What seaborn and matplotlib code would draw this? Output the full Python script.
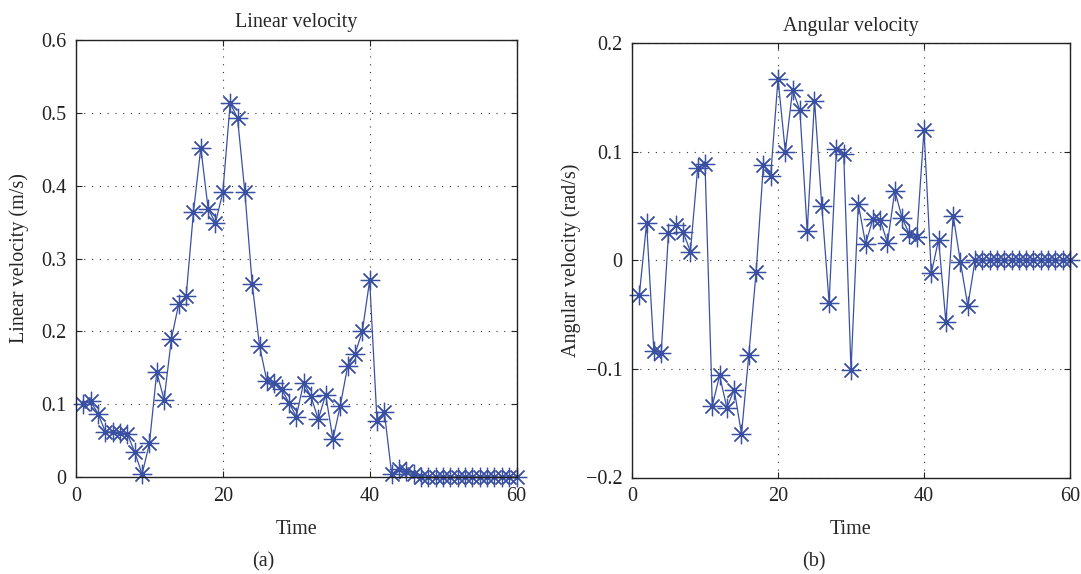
import numpy as np
import pandas as pd
import matplotlib
matplotlib.use("Agg")
import matplotlib.pyplot as plt
import seaborn as sns

# time steps
time = list(range(1, 61))

# linear velocity (m/s)
linear_velocity = [0.100, 0.104, 0.087, 0.062, 0.062, 0.061, 0.059, 0.034, 0.004, 0.046,
                   0.144, 0.106, 0.190, 0.238, 0.248, 0.364, 0.452, 0.368, 0.349, 0.391,
                   0.513, 0.493, 0.391, 0.265, 0.180, 0.132, 0.129, 0.121, 0.102, 0.083,
                   0.129, 0.111, 0.079, 0.113, 0.052, 0.098, 0.152, 0.169, 0.200, 0.270,
                   0.077, 0.089, 0.004, 0.011, 0.008, 0.004, 0.0, 0.0, 0.0, 0.0,
                   0.0, 0.0, 0.0, 0.0, 0.0, 0.0, 0.0, 0.0, 0.0, 0.0]

# angular velocity (rad/s)
angular_velocity = [-0.032, 0.034, -0.084, -0.085, 0.025, 0.032, 0.026, 0.008, 0.085, 0.089,
                    -0.134, -0.106, -0.136, -0.119, -0.160, -0.087, -0.011, 0.088, 0.078, 0.167,
                    0.100, 0.157, 0.138, 0.027, 0.147, 0.050, -0.039, 0.102, 0.098, -0.101,
                    0.052, 0.015, 0.038, 0.037, 0.016, 0.064, 0.039, 0.024, 0.021, 0.120,
                    -0.012, 0.019, -0.057, 0.041, -0.002, -0.042, 0.0, 0.0, 0.0, 0.0,
                    0.0, 0.0, 0.0, 0.0, 0.0, 0.0, 0.0, 0.0, 0.0, 0.0]

x_ticks = [0, 20, 40, 60]
lin_ticks = [0, 0.1, 0.2, 0.3, 0.4, 0.5, 0.6]
lin_tick_labels = ["0", "0.1", "0.2", "0.3", "0.4", "0.5", "0.6"]
ang_ticks = [-0.2, -0.1, 0, 0.1, 0.2]
ang_tick_labels = ["\u22120.2", "\u22120.1", "0", "0.1", "0.2"]

df = pd.DataFrame({"Time": time, "linear": linear_velocity, "angular": angular_velocity})

sns.set_style("ticks")
plt.rcParams["font.family"] = ["Liberation Serif", "DejaVu Serif"]
fs = 14.5

blue = "#3a51a3"
W, H = 1081, 574
fig = plt.figure(figsize=(W / 100, H / 100), dpi=100)

def px_axes(l, t, r, b):
    return fig.add_axes([l / W, 1 - b / H, (r - l) / W, (b - t) / H])

ax1 = px_axes(76, 40, 516.5, 477)
ax2 = px_axes(632, 43, 1070, 477.5)

panels = [
    (ax1, "linear", "Linear velocity", "Linear velocity (m/s)", (0, 0.6), lin_ticks, lin_tick_labels, 9),
    (ax2, "angular", "Angular velocity", "Angular velocity (rad/s)", (-0.2, 0.2), ang_ticks, ang_tick_labels, 3),
]

for ax, col, title, ylabel, ylim, yt, ytl, ypad in panels:
    sns.lineplot(data=df, x="Time", y=col, ax=ax, color=blue, linewidth=0.9,
                 marker=(8, 2, 0), markersize=14, markeredgewidth=0.9,
                 markeredgecolor=blue, sort=False, errorbar=None, clip_on=False)
    ax.set_xlim(0, 60)
    ax.set_ylim(*ylim)
    ax.set_xticks(x_ticks)
    ax.set_xticklabels([str(t) for t in x_ticks])
    ax.set_yticks(yt)
    ax.set_yticklabels(ytl)
    ax.grid(True, color="#333333", linestyle=(0, (1, 6)), linewidth=0.8)
    ax.tick_params(direction="in", length=4, width=0.8, top=True, right=True,
                   labelsize=fs, pad=7, colors="#222222")
    for s in ax.spines.values():
        s.set_visible(True)
        s.set_linewidth(1.0)
        s.set_color("#222222")
    ax.set_title(title, fontsize=fs, pad=9)
    ax.set_xlabel("Time", fontsize=fs, labelpad=10)
    ax.set_ylabel(ylabel, fontsize=fs, labelpad=ypad)

fig.text(263 / W, 1 - 562 / H, "(a)", ha="center", va="center", fontsize=fs)
fig.text(814 / W, 1 - 562 / H, "(b)", ha="center", va="center", fontsize=fs)

fig.savefig("out.png", dpi=100)
